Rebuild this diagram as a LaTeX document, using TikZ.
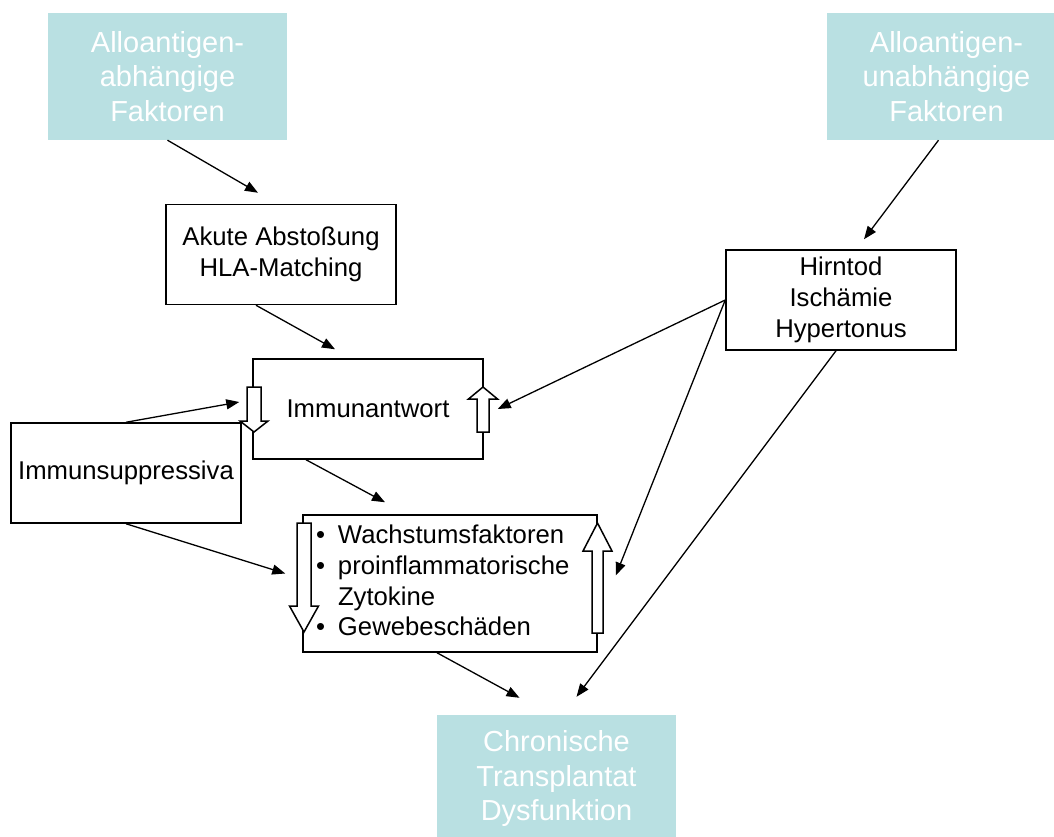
\documentclass[tikz,border=0pt]{standalone}
\usepackage{fontspec}
\setmainfont{Liberation Sans}
\usetikzlibrary{arrows.meta}
\definecolor{tealfill}{RGB}{185,224,226}
% hollow block arrow: x, tail y, head base y, tip y, shaft half width, head half width
\newcommand{\blockarrow}[6]{%
  \filldraw[fill=white,line width=1.5pt] ({#1-#5},#2) -- ({#1-#5},#3) -- ({#1-#6},#3) -- (#1,#4)
    -- ({#1+#6},#3) -- ({#1+#5},#3) -- ({#1+#5},#2) -- cycle;}

\begin{document}
\begin{tikzpicture}[x=1pt,y=1pt,
  factor/.style={fill=tealfill,text=white,minimum width=239pt,minimum height=127pt,
    align=center,inner sep=0pt,font=\fontsize{29}{34.5}\selectfont},
  cause/.style={draw,line width=1.5pt,minimum width=230pt,minimum height=100pt,
    align=center,inner sep=0pt,font=\fontsize{25.7}{30.8}\selectfont},
  conn/.style={line width=1.3pt,-{Triangle[length=13pt,width=10pt]}}]
  \useasboundingbox (0,0) rectangle (1054,-836);
  \node[factor] (dep)   at (167.5,-76.5) {Alloantigen-\\abhängige\\Faktoren};
  \node[factor] (indep) at (946.5,-76.5) {Alloantigen-\\unabhängige\\Faktoren};
  \node[factor] (chron) at (556.5,-778.5) {Chronische\\Transplantat\\Dysfunktion};
  \node[cause] (akut) at (281,-254.5) {Akute Abstoßung\\HLA-Matching};
  \node[cause] (hirn) at (841,-300) {Hirntod\\Ischämie\\Hypertonus};
  \node[cause] (immun) at (368,-409) {Immunantwort};
  \node[cause] (supp) at (126,-473) {Immunsuppressiva};
  \node[cause,minimum width=294pt,minimum height=137pt,text width=268pt,inner xsep=13pt,align=left]
    (folgen) at (450,-583.5)
    {\begin{tabular}{@{}l@{\hspace{13pt}}l@{}}
      • & Wachstumsfaktoren\\
      • & proinflammatorische\\
        & Zytokine\\
      • & Gewebeschäden
    \end{tabular}};
  % block arrows on the box edges
  \blockarrow{254}{-387}{-421}{-432}{7}{14}
  \blockarrow{483}{-432}{-399}{-387}{6}{14.5}
  \blockarrow{304}{-523}{-606}{-632}{7}{14.5}
  \blockarrow{597.5}{-633}{-551}{-523}{5.5}{14.5}
  \path[conn]
    (dep.south) edge ([xshift=-23pt,yshift=11pt]akut.north)
    ([xshift=-8pt]indep.south) edge ([xshift=23pt,yshift=10pt]hirn.north)
    ([xshift=-25pt]akut.south) edge ([xshift=-33pt,yshift=9pt]immun.north)
    (hirn.west) edge ([xshift=14pt]immun.east)
    (hirn.west) edge ([xshift=18pt,yshift=8pt]folgen.east)
    ([xshift=-5pt]hirn.south) edge ([xshift=20pt,yshift=18pt]chron.north)
    (supp.north) edge ([xshift=-13pt,yshift=7pt]immun.west)
    (supp.south) edge ([xshift=-17pt,yshift=10pt]folgen.west)
    ([xshift=-62pt]immun.south) edge ([xshift=-65pt,yshift=12pt]folgen.north)
    ([xshift=-13pt]folgen.south) edge ([xshift=-37pt,yshift=17pt]chron.north);
\end{tikzpicture}
\end{document}
